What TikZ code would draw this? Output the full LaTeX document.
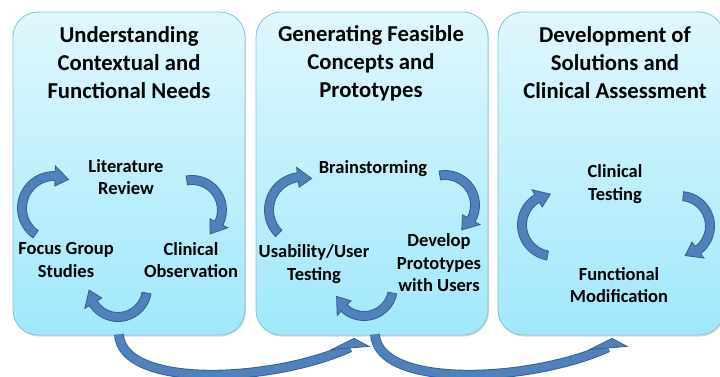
\documentclass[tikz,border=0pt]{standalone}
\usepackage{fontspec}
\setmainfont{Carlito}
\usetikzlibrary{positioning,shadows}

\definecolor{boxtop}{HTML}{E0F7FD}
\definecolor{boxbottom}{HTML}{A0E8FB}
\definecolor{boxline}{HTML}{80C4DA}
\definecolor{arrowfill}{HTML}{4F81BD}
\definecolor{arrowline}{HTML}{385D8A}

% circular block arrow: centre, radius, tail angle, tip angle (clockwise)
\newcommand{\cyclearrow}[4]{%
	\pgfmathsetmacro{\cyaout}{#2+4.5}%
	\pgfmathsetmacro{\cyain}{#2-4.5}%
	\pgfmathsetmacro{\cyahout}{#2+10}%
	\pgfmathsetmacro{\cyahin}{#2-10}%
	\pgfmathsetmacro{\cyabase}{#4+800/#2}%
	\filldraw[cyc] ([shift={(#1)}]#3:\cyaout) arc[start angle=#3, end angle=\cyabase, radius=\cyaout]
		-- ([shift={(#1)}]\cyabase:\cyahout) -- ([shift={(#1)}]#4:#2) -- ([shift={(#1)}]\cyabase:\cyahin)
		-- ([shift={(#1)}]\cyabase:\cyain) arc[start angle=\cyabase, end angle=#3, radius=\cyain] -- cycle;
}

\begin{document}
\begin{tikzpicture}[
		x=1pt, y=1pt,
		font=\bfseries,
		stage/.style = {shape=rectangle, rounded corners=25pt,
			draw=boxline, line width=0.8pt,
			top color=boxtop, bottom color=boxbottom,
			minimum width=232pt, minimum height=323pt,
			drop shadow={shadow xshift=1pt, shadow yshift=-1.5pt, opacity=0.3}},
		title/.style = {align=center, inner sep=0pt,
			font=\fontsize{22.7}{28}\selectfont\bfseries},
		activity/.style = {align=center, inner sep=0pt,
			font=\fontsize{18.5}{22.5}\selectfont\bfseries},
		cyc/.style = {fill=arrowfill, draw=arrowline, line width=0.8pt},
		shaft/.style = {draw=arrowline, line width=0.9pt,
			double=arrowfill, double distance=8pt},
		head/.style = {fill=arrowfill, draw=arrowline, line width=0.8pt},
		]
		\useasboundingbox (0,0) rectangle (720,376);
		\clip (0,0) rectangle (720,376);
		
		% stages
		\node[stage] (box1) at (129,202.5) {};
		\node[stage] (box2) at (372,202.5) {};
		\node[stage, minimum width=226pt] (box3) at (611,202.5) {};
		
		\node[title] (title1) at (129,313) {Understanding\\Contextual and\\Functional Needs};
		\node[title] (title2) at (371,313) {Generating Feasible\\Concepts and\\Prototypes};
		\node[title] (title3) at (615,313) {Development of\\Solutions and\\Clinical Assessment};
		
		% first stage
		\node[activity] (lit)   at (126,199) {Literature\\Review};
		\node[activity] (focus) at (66,116)  {Focus Group\\Studies};
		\node[activity] (obs)   at (191,116) {Clinical\\Observation};
		\cyclearrow{54,168}{32}{235}{63}
		\cyclearrow{192,166}{30}{100}{-53}
		\cyclearrow{118,88}{29}{-10}{-176}
		
		% second stage
		\node[activity] (brain) at (373,207) {Brainstorming};
		\node[activity] (user)  at (314,112) {Usability/User\\Testing};
		\node[activity] (proto) at (439,113) {Develop\\Prototypes\\with Users};
		\cyclearrow{302,166}{33}{225}{73}
		\cyclearrow{445,171}{30}{100}{-56}
		\cyclearrow{364,89}{29}{-12}{-161}
		
		% third stage
		\node[activity] (ctest) at (615,192) {Clinical\\Testing};
		\node[activity] (fmod)  at (619,91)  {Functional\\Modification};
		\cyclearrow{553,151}{31}{260}{95}
		\cyclearrow{680,150}{30}{84}{-80}
		
		% links between stages
		\coordinate (tail1) at ([xshift=-10pt, yshift=1pt]box1.south);
		\coordinate (tip1)  at ([xshift=-18pt, yshift=-3pt]box2.south);
		\coordinate (tail2) at ([xshift=3pt, yshift=1pt]box2.south);
		\coordinate (tip2)  at ([xshift=1pt, yshift=-3pt]box3.south);
		\draw[shaft] (tail1) .. controls +(3,-54) and +(-80,-36) .. ([shift={(-4,-9)}]tip1);
		\filldraw[head] (tip1) -- ([shift={(-22,-11)}]tip1) -- ([shift={(15,-8)}]tip1) -- cycle;
		\draw[shaft] (tail2) .. controls +(3,-54) and +(-80,-36) .. ([shift={(-4,-9)}]tip2);
		\filldraw[head] (tip2) -- ([shift={(-22,-11)}]tip2) -- ([shift={(15,-8)}]tip2) -- cycle;
\end{tikzpicture}
\end{document}
